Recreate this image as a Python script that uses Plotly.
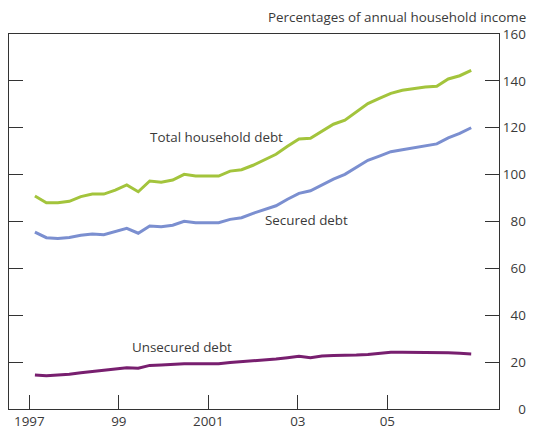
import plotly.graph_objects as go

# Quarterly observations, 1997 Q1 onwards (39 points)
quarters = [f"{1997 + i // 4} Q{i % 4 + 1}" for i in range(39)]

total_debt = [90.9, 88.0, 88.0, 88.6, 90.6, 91.7, 91.7, 93.4, 95.6, 92.7,
              97.3, 96.8, 97.7, 100.1, 99.4, 99.4, 99.4, 101.5, 102.1, 104.0,
              106.5, 108.7, 112.1, 115.2, 115.5, 118.6, 121.5, 123.2, 126.6, 130.3,
              132.5, 134.7, 136.0, 136.7, 137.4, 137.7, 140.8, 142.2, 144.5]

secured_debt = [75.5, 73.1, 72.8, 73.2, 74.1, 74.7, 74.4, 75.8, 77.1, 75.0,
                78.1, 77.8, 78.4, 80.1, 79.5, 79.5, 79.5, 80.9, 81.6, 83.5,
                85.0, 86.7, 89.5, 92.0, 93.1, 95.6, 98.1, 100.1, 103.0, 106.1,
                107.9, 109.8, 110.6, 111.5, 112.3, 113.1, 115.7, 117.6, 120.0]

unsecured_debt = [14.5, 14.2, 14.5, 14.8, 15.5, 16.1, 16.5, 17.1, 17.6, 17.4,
                  18.6, 18.8, 19.1, 19.3, 19.3, 19.3, 19.3, 19.8, 20.1, 20.6,
                  20.9, 21.3, 21.9, 22.5, 21.9, 22.6, 22.8, 22.8, 23.0, 23.3,
                  23.8, 24.2, 24.2, 24.2, 24.2, 24.0, 24.0, 23.8, 23.5]

x_tick_vals = [1997, 1999, 2001, 2003, 2005]
x_tick_text = ["1997", "99", "2001", "03", "05"]
y_tick_vals = [0, 20, 40, 60, 80, 100, 120, 140, 160]

# time position of each observation (first obs. early 1997, last late 2006)
n = len(quarters)
x_pos = [1997.125 + i * 9.75 / (n - 1) for i in range(n)]

FONT = "Open Sans"
TXT = "#3a3a3a"
FS = 13.4

fig = go.Figure()
fig.add_trace(go.Scatter(x=x_pos, y=total_debt, mode="lines", name="Total household debt",
                         line=dict(color="#a3c43c", width=3)))
fig.add_trace(go.Scatter(x=x_pos, y=secured_debt, mode="lines", name="Secured debt",
                         line=dict(color="#7b8fd0", width=3)))
fig.add_trace(go.Scatter(x=x_pos, y=unsecured_debt, mode="lines", name="Unsecured debt",
                         line=dict(color="#781f6f", width=3)))

fig.update_layout(
    width=527, height=421,
    margin=dict(l=1, r=36, t=26, b=20, autoexpand=False),
    paper_bgcolor="white", plot_bgcolor="white",
    showlegend=False,
    font=dict(family=FONT, size=FS, color=TXT),
    xaxis=dict(range=[1996.546, 2007.496], tickvals=x_tick_vals, ticktext=x_tick_text,
               ticks="inside", ticklen=14, tickwidth=1.2, tickcolor="#333",
               showline=True, linecolor="#333", linewidth=1.3, mirror=True,
               showgrid=False, zeroline=False, automargin=False, ticklabelstandoff=0,
               tickfont=dict(size=FS, color=TXT)),
    yaxis=dict(range=[0, 160], side="right", tickvals=y_tick_vals,
               ticktext=[f"{v:>3}".replace(" ", "\u2007") for v in y_tick_vals],
               ticks="inside", ticklen=14, tickwidth=1.2, tickcolor="#333",
               showline=True, linecolor="#333", linewidth=1.3, mirror="ticks",
               showgrid=False, zeroline=False, automargin=False, ticklabelstandoff=0,
               tickfont=dict(size=FS, color=TXT)),
    annotations=[
        dict(text="Percentages of annual household income", xref="paper", yref="paper",
             x=1.057, y=1.0, yshift=17, xanchor="right", yanchor="middle", showarrow=False,
             borderpad=0, font=dict(size=FS, color=TXT)),
        dict(text="Total household debt", x=2001.18, y=116, showarrow=False,
             xanchor="center", yanchor="middle", font=dict(size=FS, color=TXT)),
        dict(text="Secured debt", x=2003.19, y=80.6, showarrow=False,
             xanchor="center", yanchor="middle", font=dict(size=FS, color=TXT)),
        dict(text="Unsecured debt", x=2000.42, y=26.5, showarrow=False,
             xanchor="center", yanchor="middle", font=dict(size=FS, color=TXT)),
    ],
)

fig.write_html("out.html")
